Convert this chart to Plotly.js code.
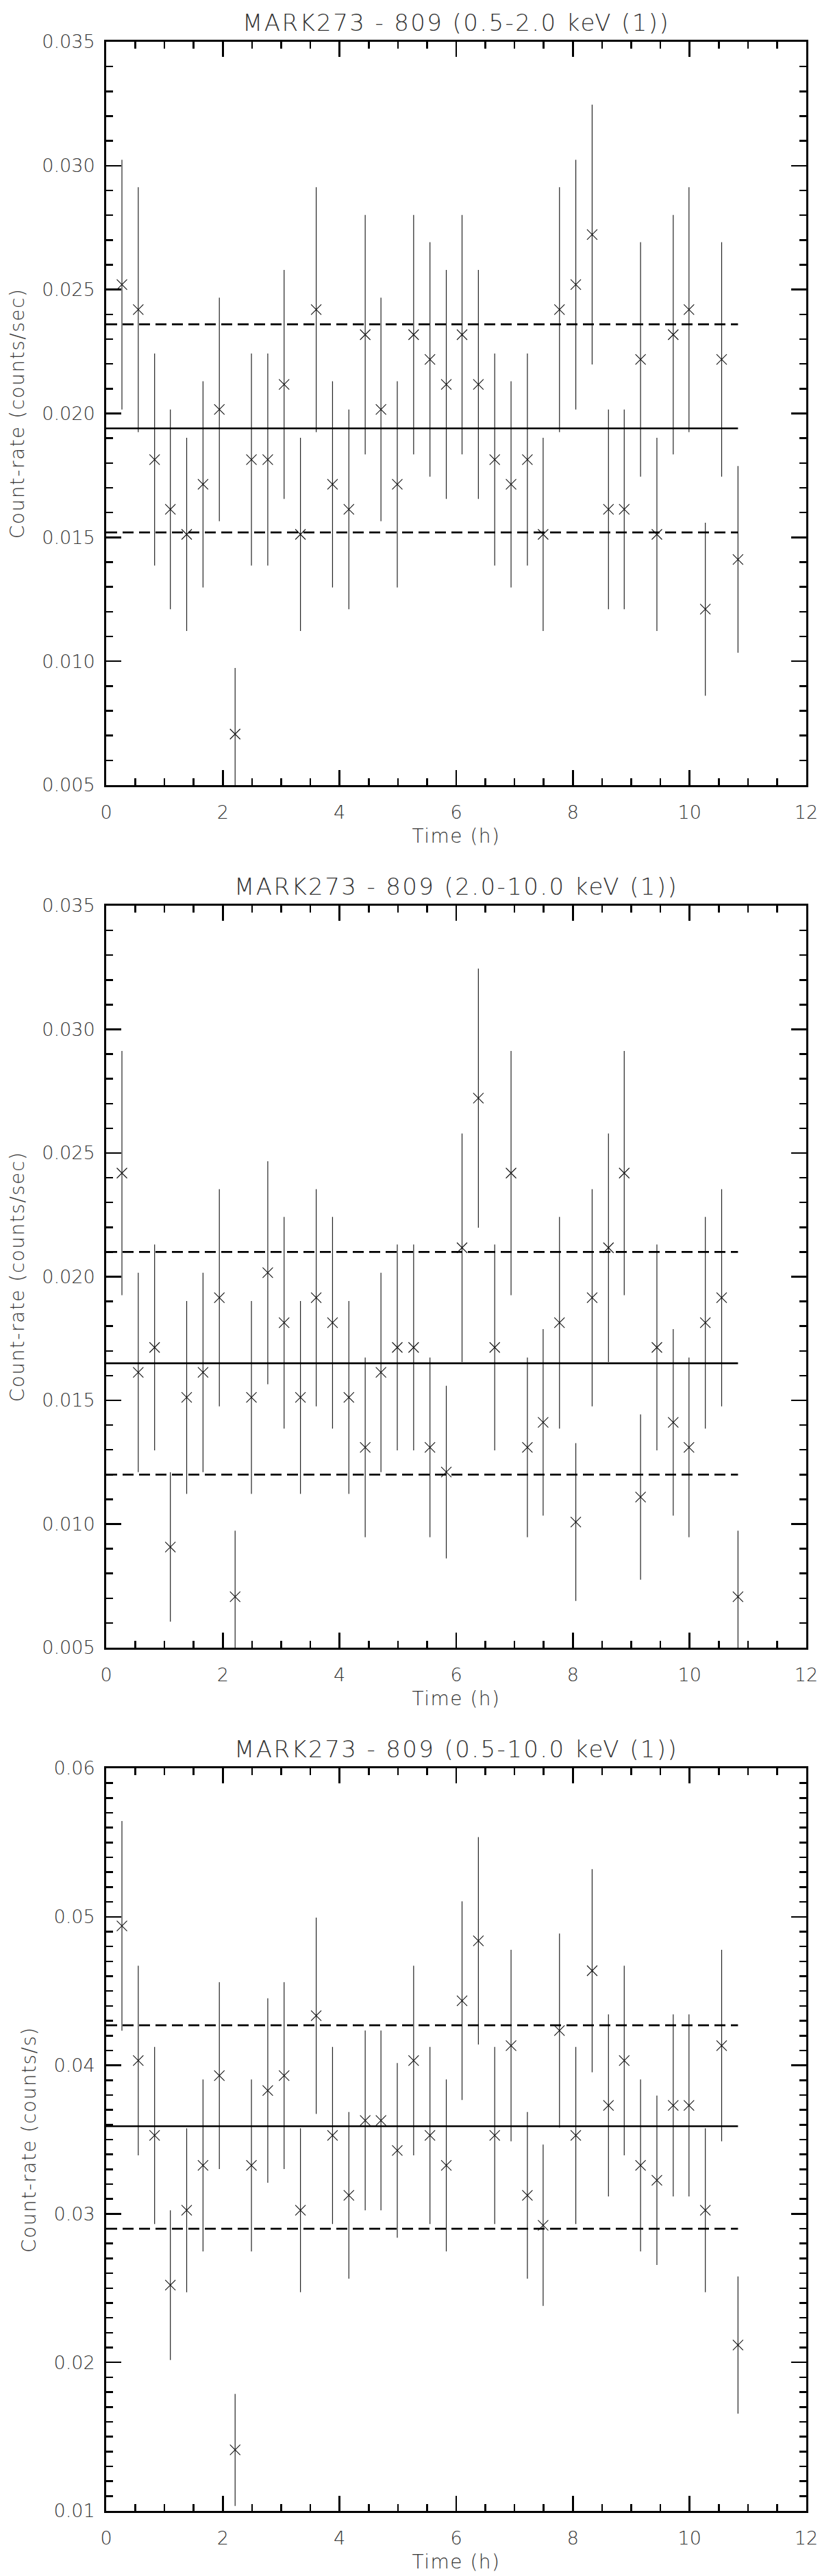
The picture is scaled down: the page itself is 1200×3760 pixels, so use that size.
<!DOCTYPE html>
<html><head><meta charset="utf-8">
<script src="https://cdn.plot.ly/plotly-3.0.1.min.js"></script>
<style>
body{margin:0;background:#fff}
.xtitle,.x2title,.x3title,.ytitle,.y2title,.y3title{letter-spacing:1.5px}
.annotation-text{letter-spacing:2.4px}
</style></head>
<body><div id="chart" style="width:1200px;height:3760px"></div>
<script>
// Time of each bin (h)
const time = [0.27,0.55,0.83,1.10,1.38,1.66,1.94,2.21,2.49,2.77,3.05,3.33,3.60,3.88,4.16,4.44,4.71,4.99,5.27,5.55,5.83,6.10,6.38,6.66,6.94,7.22,7.49,7.77,8.05,8.33,8.61,8.88,9.16,9.44,9.72,9.99,10.27,10.55,10.83];

// 0.5-2.0 keV
const rateSoft = [0.02520,0.02419,0.01814,0.01613,0.01512,0.01714,0.02016,0.00706,0.01814,0.01814,0.02117,0.01512,0.02419,0.01714,0.01613,0.02318,0.02016,0.01714,0.02318,0.02218,0.02117,0.02318,0.02117,0.01814,0.01714,0.01814,0.01512,0.02419,0.02520,0.02722,0.01613,0.01613,0.02218,0.01512,0.02318,0.02419,0.01210,0.02218,0.01411];
const errSoft = [0.00504,0.00494,0.00428,0.00403,0.00390,0.00416,0.00451,0.00267,0.00428,0.00428,0.00462,0.00390,0.00494,0.00416,0.00403,0.00483,0.00451,0.00416,0.00483,0.00473,0.00462,0.00483,0.00462,0.00428,0.00416,0.00428,0.00390,0.00494,0.00504,0.00524,0.00403,0.00403,0.00473,0.00390,0.00483,0.00494,0.00349,0.00473,0.00377];

// 2.0-10.0 keV
const rateHard = [0.02419,0.01613,0.01714,0.00907,0.01512,0.01613,0.01915,0.00706,0.01512,0.02016,0.01814,0.01512,0.01915,0.01814,0.01512,0.01310,0.01613,0.01714,0.01714,0.01310,0.01210,0.02117,0.02722,0.01714,0.02419,0.01310,0.01411,0.01814,0.01008,0.01915,0.02117,0.02419,0.01109,0.01714,0.01411,0.01310,0.01814,0.01915,0.00706];
const errHard = [0.00494,0.00403,0.00416,0.00302,0.00390,0.00403,0.00439,0.00267,0.00390,0.00451,0.00428,0.00390,0.00439,0.00428,0.00390,0.00363,0.00403,0.00416,0.00416,0.00363,0.00349,0.00462,0.00524,0.00416,0.00494,0.00363,0.00377,0.00428,0.00319,0.00439,0.00462,0.00494,0.00334,0.00416,0.00377,0.00363,0.00428,0.00439,0.00267];

// 0.5-10.0 keV
const rateTotal = [0.04939,0.04032,0.03528,0.02520,0.03024,0.03326,0.03931,0.01411,0.03326,0.03830,0.03931,0.03024,0.04334,0.03528,0.03125,0.03629,0.03629,0.03427,0.04032,0.03528,0.03326,0.04435,0.04838,0.03528,0.04133,0.03125,0.02923,0.04234,0.03528,0.04637,0.03730,0.04032,0.03326,0.03226,0.03730,0.03730,0.03024,0.04133,0.02117];
const errTotal = [0.00706,0.00638,0.00596,0.00504,0.00552,0.00579,0.00629,0.00377,0.00579,0.00621,0.00629,0.00552,0.00661,0.00596,0.00561,0.00605,0.00605,0.00588,0.00638,0.00596,0.00579,0.00669,0.00698,0.00596,0.00645,0.00561,0.00543,0.00653,0.00596,0.00684,0.00613,0.00638,0.00579,0.00570,0.00613,0.00613,0.00552,0.00645,0.00462];

// Mean and +/- one sigma levels
const meanRate  = [0.0194, 0.0165, 0.0359];
const upperRate = [0.0236, 0.0210, 0.0427];
const lowerRate = [0.0152, 0.0120, 0.0290];

const panelTitles = ['MARK273 - 809 (0.5-2.0 keV (1))','MARK273 - 809 (2.0-10.0 keV (1))','MARK273 - 809 (0.5-10.0 keV (1))'];
const yTitles = ['Count-rate (counts/sec)','Count-rate (counts/sec)','Count-rate (counts/s)'];
const xTitle = 'Time (h)';

const rates = [rateSoft, rateHard, rateTotal];
const errs = [errSoft, errHard, errTotal];

const yRanges = [[0.005,0.035],[0.005,0.035],[0.01,0.06]];
const yMajor = [0.005,0.005,0.01];
const yFormat = ['.3f','.3f','.2f'];

const W = 1200, H = 3760;
const plotLeft = 155, plotRight = 1177;
const tops = [61, 1322, 2581], bottoms = [1146, 2405, 3665];

const FONT = {family:'DejaVu Sans', size:27, color:'#333', weight:200};
const traces = [];
const layout = {
  width:W, height:H, margin:{l:0,r:0,t:0,b:0},
  paper_bgcolor:'#fff', plot_bgcolor:'#fff', showlegend:false,
  font: FONT, annotations: []
};
const tEnd = time[time.length-1];

for (let p = 0; p < 3; p++) {
  const s = p === 0 ? '' : String(p+1);
  const xa = 'x' + s, ya = 'y' + s;
  const dom = [1 - bottoms[p]/H, 1 - tops[p]/H];
  traces.push({
    x: time, y: rates[p], xaxis: xa, yaxis: ya, type:'scatter', mode:'markers',
    marker:{symbol:'x-thin', size:15, color:'#111', line:{width:1.1, color:'#111'}},
    error_y:{type:'data', array:errs[p], visible:true, thickness:1.2, width:0, color:'#222'},
    hoverinfo:'x+y'
  });
  traces.push({x:[0,tEnd], y:[meanRate[p],meanRate[p]], xaxis:xa, yaxis:ya, mode:'lines', line:{color:'#000', width:2.6}});
  traces.push({x:[0,tEnd], y:[upperRate[p],upperRate[p]], xaxis:xa, yaxis:ya, mode:'lines', line:{color:'#000', width:2.8, dash:'16px,8px'}});
  traces.push({x:[0,tEnd], y:[lowerRate[p],lowerRate[p]], xaxis:xa, yaxis:ya, mode:'lines', line:{color:'#000', width:2.8, dash:'16px,8px'}});

  layout['xaxis' + s] = {
    domain:[plotLeft/W, plotRight/W], anchor: ya, range:[0,12],
    tick0:0, dtick:2, ticks:'inside', ticklen:22, tickwidth:2.6, tickcolor:'#000',
    minor:{ticks:'inside', dtick:0.5, ticklen:10, tickwidth:2.6, tickcolor:'#000'},
    showline:true, linewidth:3, linecolor:'#000', mirror:'allticks',
    showgrid:false, zeroline:false, ticklabelstandoff:14,
    tickfont: FONT,
    title:{text:xTitle, font:{family:'DejaVu Sans', size:28, color:'#333', weight:200}, standoff:10}
  };
  layout['yaxis' + s] = {
    domain: dom, anchor: xa, range: yRanges[p],
    tick0: yRanges[p][0], dtick: yMajor[p], tickformat: yFormat[p],
    ticks:'inside', ticklen:22, tickwidth:2.6, tickcolor:'#000',
    minor:{ticks:'inside', dtick:0.001, ticklen:10, tickwidth:2.6, tickcolor:'#000'},
    showline:true, linewidth:3, linecolor:'#000', mirror:'allticks',
    showgrid:false, zeroline:false, ticklabelstandoff:8,
    tickfont: FONT,
    title:{text:yTitles[p], font:{family:'DejaVu Sans', size:28, color:'#333', weight:200}, standoff:18}
  };
  layout.annotations.push({
    text: panelTitles[p], xref: xa + ' domain', yref: ya + ' domain', x:0.5, y:1,
    xanchor:'center', yanchor:'bottom', yshift:6, showarrow:false,
    font:{family:'DejaVu Sans', size:34, color:'#333', weight:200}
  });
}

Plotly.newPlot('chart', traces, layout, {staticPlot:true, displayModeBar:false});
</script></body></html>
